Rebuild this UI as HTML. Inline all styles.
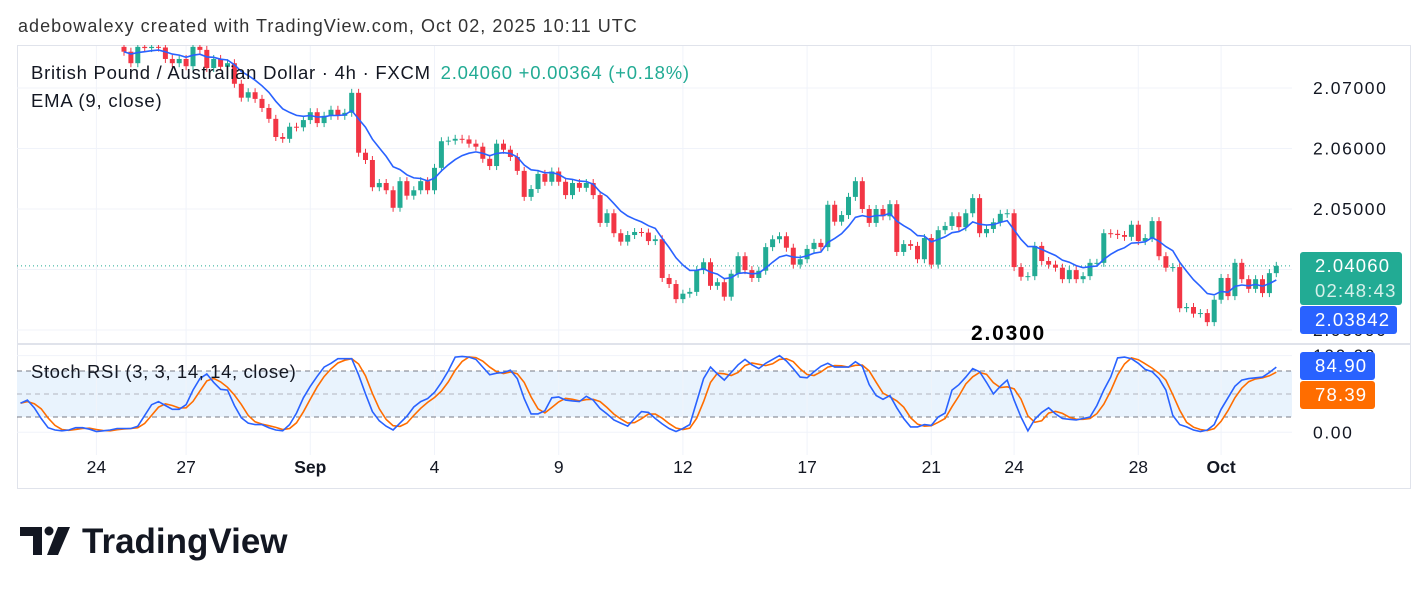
<!DOCTYPE html>
<html><head><meta charset="utf-8"><style>
html,body{margin:0;padding:0;background:#fff;width:1428px;height:591px;overflow:hidden}
svg{display:block;font-family:"Liberation Sans",Arial,sans-serif}
</style></head><body>
<svg id="chart" width="1428" height="591" viewBox="0 0 1428 591">
<defs>
<clipPath id="mainClip"><rect x="17" y="45" width="1275" height="298"/></clipPath>
<clipPath id="stochClip"><rect x="17" y="345" width="1275" height="110"/></clipPath>
</defs>
<text x="18" y="32" font-size="18" letter-spacing="1.05" fill="#333">adebowalexy created with TradingView.com, Oct 02, 2025 10:11 UTC</text>
<rect x="17.5" y="45.5" width="1393" height="443" fill="#fff" stroke="#e0e3eb"/>
<rect x="17" y="371" width="1275" height="46" fill="#e9f3fd"/>
<g id="grid"></g>
<g id="main" clip-path="url(#mainClip)"></g>
<line x1="17" y1="344" x2="1411" y2="344" stroke="#e0e3eb" stroke-width="2"/>
<g id="stoch" clip-path="url(#stochClip)"></g>
<g id="axes"></g>
<text x="31" y="79" font-size="18.5" letter-spacing="0.75" fill="#131722">British Pound / Australian Dollar · 4h · FXCM <tspan fill="#22ab94" dx="4">2.04060 +0.00364 (+0.18%)</tspan></text>
<text x="31" y="107" font-size="18.5" letter-spacing="0.8" fill="#131722">EMA (9, close)</text>
<text x="31" y="378" font-size="18.5" letter-spacing="0.6" fill="#131722">Stoch RSI (3, 3, 14, 14, close)</text>
<text x="971" y="340" font-size="21" letter-spacing="1.8" font-weight="bold" fill="#000">2.0300</text>
<g>
<path d="M20 527h22v28h-9v-19h-13z" fill="#131722"/>
<circle cx="49" cy="531" r="4.5" fill="#131722"/>
<path d="M58 527h12l-12 28h-11z" fill="#131722"/>
<text x="82" y="553" font-size="35" font-weight="bold" fill="#131722">TradingView</text>
</g>
</svg>
<script>
const closes=[2.0760,2.0741,2.0768,2.0766,2.0768,2.0767,2.0748,2.0741,2.0748,2.0736,2.0768,2.0763,2.0733,2.0748,2.0735,2.0741,2.0707,2.0684,2.0693,2.0682,2.0667,2.0649,2.0619,2.0616,2.0636,2.0635,2.0647,2.0660,2.0642,2.0654,2.0664,2.0654,2.0659,2.0692,2.0593,2.0581,2.0536,2.0543,2.0531,2.0502,2.0546,2.0522,2.0531,2.0546,2.0531,2.0568,2.0612,2.0613,2.0616,2.0615,2.0608,2.0603,2.0583,2.0571,2.0608,2.0598,2.0586,2.0563,2.0520,2.0533,2.0558,2.0545,2.0562,2.0545,2.0523,2.0543,2.0535,2.0543,2.0523,2.0477,2.0493,2.0460,2.0446,2.0457,2.0462,2.0461,2.0447,2.0450,2.0386,2.0376,2.0351,2.0360,2.0363,2.0399,2.0412,2.0373,2.0379,2.0355,2.0393,2.0422,2.0399,2.0386,2.0398,2.0437,2.0450,2.0455,2.0436,2.0408,2.0417,2.0434,2.0444,2.0437,2.0507,2.0479,2.0490,2.0520,2.0546,2.0500,2.0477,2.0500,2.0488,2.0508,2.0429,2.0442,2.0439,2.0417,2.0452,2.0408,2.0465,2.0472,2.0488,2.0470,2.0493,2.0518,2.0460,2.0467,2.0478,2.0492,2.0493,2.0404,2.0388,2.0389,2.0439,2.0414,2.0408,2.0403,2.0384,2.0399,2.0384,2.0389,2.0411,2.0411,2.0460,2.0459,2.0457,2.0454,2.0474,2.0447,2.0452,2.0480,2.0422,2.0403,2.0404,2.0336,2.0338,2.0327,2.0328,2.0313,2.0350,2.0386,2.0356,2.0411,2.0384,2.0368,2.0384,2.0361,2.0394,2.0406];
const firstOpen=2.0768;
const stochK=[38,42,32,18,6,3,2,3,6,6,4,1,2,3,5,5,5,8,22,36,40,35,30,30,36,55,70,76,65,56,55,35,19,12,10,10,6,3,2,10,25,45,60,73,85,90,96,96,96,75,50,27,15,8,3,12,21,33,40,44,52,65,80,98,99,98,95,85,75,77,78,81,70,44,24,24,28,45,46,42,41,40,47,42,31,24,16,12,8,18,27,26,18,11,5,1,5,10,40,70,85,76,68,78,88,95,88,83,90,95,100,93,83,72,71,79,86,90,85,85,85,92,86,62,48,43,48,32,18,7,7,10,9,20,25,55,62,72,83,79,65,50,60,68,42,20,2,17,26,32,24,18,17,16,18,20,35,55,72,97,98,96,90,82,79,70,55,22,10,7,3,1,3,10,30,45,60,68,70,71,72,78,85];
const priceTicks=[2.07,2.06,2.05,2.04,2.03];
const timeLabels=["24","27","Sep","4","9","12","17","21","24","28","Oct"];
const timeBars=[11,24,42,60,78,96,114,132,144,162,174];
const hiddenBars=15, emaLen=9, lastPrice=2.0406;

const NS="http://www.w3.org/2000/svg";
function mk(tag,attrs,parent){const e=document.createElementNS(NS,tag);for(const k in attrs)e.setAttribute(k,attrs[k]);parent.appendChild(e);return e;}
const xBar=j=>20.5+j*6.9;
const yP=p=>88+(2.07-p)*6050;
const yS=v=>432.3-v*0.767;
const grid=document.getElementById('grid'),main=document.getElementById('main'),stoch=document.getElementById('stoch'),axes=document.getElementById('axes');

priceTicks.forEach(p=>{
  const l=mk('line',{x1:17,x2:1292,y1:yP(p),y2:yP(p),stroke:'#f0f3fa'},grid);
  
  
  const t=mk('text',{x:1313,y:yP(p)+6,'font-size':17.5,'letter-spacing':1.6,fill:'#131722'},axes);
  t.textContent=p.toFixed(5);
  
  
});
timeBars.forEach((b,i)=>{
  const x=xBar(b);
  const l=mk('line',{x1:x,x2:x,y1:46,y2:455,stroke:'#f0f3fa'},grid);
  
  
  const bold=isNaN(+timeLabels[i]);
  const t=mk('text',{x:x,y:473,'font-size':17.5,'text-anchor':'middle',fill:'#131722','font-weight':bold?'bold':'normal'},axes);
  t.textContent=timeLabels[i];
  
  
});
[100,0].forEach(v=>{
  const l=mk('line',{x1:17,x2:1292,y1:yS(v),y2:yS(v),stroke:'#f0f3fa'},grid);
  
  
});
[[80,'#787b86'],[50,'#b2b5be'],[20,'#787b86']].forEach(([v,c])=>{
  const l=mk('line',{x1:17,x2:1292,y1:yS(v),y2:yS(v),stroke:c,'stroke-dasharray':'5 4'},stoch);
  
  
});

const pl=mk('line',{x1:17,x2:1292,y1:yP(lastPrice),y2:yP(lastPrice),stroke:'#22ab94','stroke-dasharray':'1 3'},main);



closes.forEach((c,i)=>{
  const o=i===0?firstOpen:closes[i-1];
  const up=c>=o, col=up?'#22ab94':'#f23645';
  const x=xBar(i+hiddenBars);
  const yt=yP(Math.max(o,c)), yb=yP(Math.min(o,c));
  const w=mk('line',{x1:x,x2:x,y1:yt-4,y2:yb+4,stroke:col,'stroke-width':1},main);
  
  
  const r=mk('rect',{x:x-2.5,y:yt,width:5,height:Math.max(1,yb-yt),fill:col},main);
  
  
});
let ema=closes[0],pts=[];
const a=2/(emaLen+1);
closes.forEach((c,i)=>{ema=i===0?c:a*c+(1-a)*ema;pts.push(xBar(i+hiddenBars).toFixed(1)+','+yP(ema).toFixed(1));});
const emaLine=mk('polyline',{points:pts.join(' '),fill:'none',stroke:'#2962ff','stroke-width':1.6},main);



const stochD=stochK.map((v,i)=>{const s=stochK.slice(Math.max(0,i-2),i+1);return s.reduce((p,q)=>p+q,0)/s.length;});
const dLine=mk('polyline',{points:stochD.map((v,i)=>xBar(i).toFixed(1)+','+yS(v).toFixed(1)).join(' '),fill:'none',stroke:'#ff6d00','stroke-width':1.6},stoch);


const kLine=mk('polyline',{points:stochK.map((v,i)=>xBar(i).toFixed(1)+','+yS(v).toFixed(1)).join(' '),fill:'none',stroke:'#2962ff','stroke-width':1.6},stoch);



[[100,'100.00'],[0,'0.00']].forEach(([v,s])=>{
  const t=mk('text',{x:1313,y:yS(v)+6,'font-size':17.5,'letter-spacing':1.6,fill:'#131722'},axes);
  t.textContent=s;
  
  
});
function badge(y,h,w,fill,lines,name){
  const g=mk('g',{},axes);
  
  
  mk('rect',{x:1300,y:y,width:w,height:h,rx:3,fill:fill},g);
  lines.forEach((s,i)=>{const t=mk('text',{x:1315,y:y+20+i*25,'font-size':18.5,'letter-spacing':1.2,fill:i?'#d6f0ea':'#fff'},g);t.textContent=s;});
}
badge(252,53,102,'#22ab94',['2.04060','02:48:43'],'last-price-badge');
badge(306,28,97,'#2962ff',['2.03842'],'ema-value-badge');
badge(352,28,75,'#2962ff',['84.90'],'stoch-k-badge');
badge(381,28,75,'#ff6d00',['78.39'],'stoch-d-badge');
</script>
</body></html>
